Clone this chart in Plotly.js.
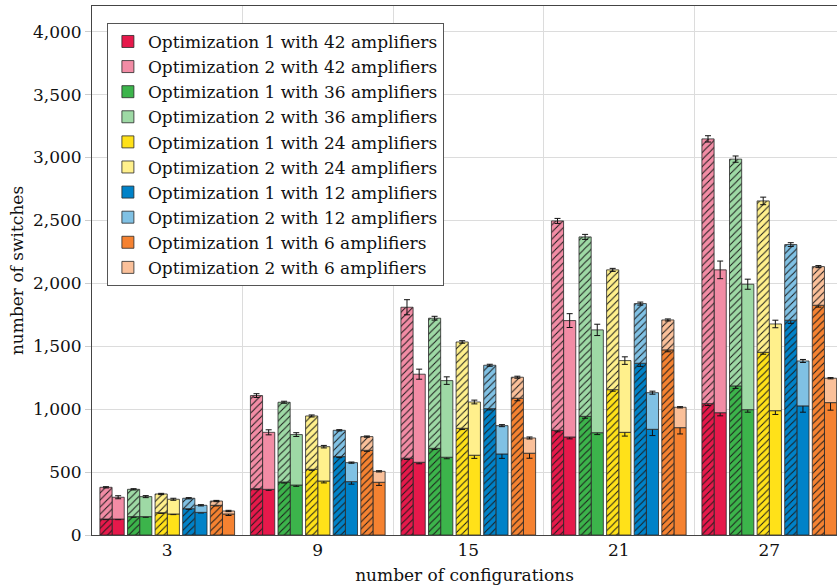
<!DOCTYPE html>
<html>
<head>
<meta charset="utf-8">
<script src="https://cdn.plot.ly/plotly-3.0.1.min.js"></script>
<style>html,body{margin:0;padding:0;background:#fff;}#chart{width:837px;height:587px;}</style>
</head>
<body>
<div id="chart"></div>
<script>
// number of configurations (x categories)
const configs = [3, 9, 15, 21, 27];
const xTickLabels = ['3', '9', '15', '21', '27'];
const amps = [42, 36, 24, 12, 6];

// Hatched bars: bottom = Optimization 1, top (total) = Optimization 2
const hatchOpt1_42 = [127, 368, 610, 832, 1044];
const hatchOpt2_42 = [379, 1108, 1810, 2496, 3148];
const hatchOpt1_36 = [146, 421, 689, 943, 1185];
const hatchOpt2_36 = [363, 1055, 1723, 2369, 2987];
const hatchOpt1_24 = [177, 522, 848, 1155, 1452];
const hatchOpt2_24 = [326, 946, 1534, 2107, 2655];
const hatchOpt1_12 = [209, 623, 1004, 1365, 1707];
const hatchOpt2_12 = [292, 832, 1349, 1839, 2308];
const hatchOpt1_6  = [236, 673, 1087, 1471, 1826];
const hatchOpt2_6  = [270, 782, 1254, 1709, 2133];

// Solid bars: bottom = Optimization 1, top (total) = Optimization 2
const solidOpt1_42 = [127, 363, 578, 779, 972];
const solidOpt2_42 = [300, 816, 1278, 1704, 2107];
const solidOpt1_36 = [146, 397, 618, 813, 996];
const solidOpt2_36 = [305, 798, 1227, 1630, 1993];
const solidOpt1_24 = [167, 429, 634, 816, 988];
const solidOpt2_24 = [284, 702, 1057, 1386, 1677];
const solidOpt1_12 = [180, 424, 644, 840, 1026];
const solidOpt2_12 = [236, 575, 869, 1131, 1383];
const solidOpt1_6  = [167, 419, 650, 853, 1052];
const solidOpt2_6  = [191, 506, 771, 1015, 1246];

// error bars (+/-)
const hatchErr1_42 = [5, 8, 10, 12, 15], hatchErr2_42 = [5, 15, 60, 20, 25];
const solidErr1_42 = [5, 8, 12, 15, 25], solidErr2_42 = [12, 20, 40, 55, 70];
const hatchErr1_36 = [5, 8, 10, 15, 20], hatchErr2_36 = [5, 8, 15, 20, 25];
const solidErr1_36 = [5, 10, 12, 15, 20], solidErr2_36 = [8, 15, 30, 45, 40];
const hatchErr1_24 = [5, 8, 10, 12, 15], hatchErr2_24 = [5, 8, 10, 12, 30];
const solidErr1_24 = [5, 15, 25, 30, 30], solidErr2_24 = [8, 10, 15, 30, 30];
const hatchErr1_12 = [5, 8, 10, 25, 25], hatchErr2_12 = [5, 5, 8, 12, 15];
const solidErr1_12 = [5, 20, 35, 50, 50], solidErr2_12 = [5, 5, 8, 12, 12];
const hatchErr1_6  = [5, 8, 20, 15, 15], hatchErr2_6  = [5, 5, 8, 8, 8];
const solidErr1_6  = [12, 25, 40, 50, 60], solidErr2_6  = [5, 5, 8, 5, 5];

const darkColors  = ['#e6194b', '#3cb44b', '#ffe119', '#0082c8', '#f58231'];
const lightColors = ['#f28ca5', '#9ed9a5', '#fff08c', '#80c1e4', '#fac09a'];

const series = [
  [hatchOpt1_42, hatchOpt2_42, solidOpt1_42, solidOpt2_42, hatchErr1_42, hatchErr2_42, solidErr1_42, solidErr2_42],
  [hatchOpt1_36, hatchOpt2_36, solidOpt1_36, solidOpt2_36, hatchErr1_36, hatchErr2_36, solidErr1_36, solidErr2_36],
  [hatchOpt1_24, hatchOpt2_24, solidOpt1_24, solidOpt2_24, hatchErr1_24, hatchErr2_24, solidErr1_24, solidErr2_24],
  [hatchOpt1_12, hatchOpt2_12, solidOpt1_12, solidOpt2_12, hatchErr1_12, hatchErr2_12, solidErr1_12, solidErr2_12],
  [hatchOpt1_6,  hatchOpt2_6,  solidOpt1_6,  solidOpt2_6,  hatchErr1_6,  hatchErr2_6,  solidErr1_6,  solidErr2_6]
];

const BW = 0.485;     // bar width (x units)
const PITCH = 1.1;    // pair pitch
const lineStyle = {color: 'rgba(40,40,40,0.8)', width: 1};
const errStyle = (arr) => ({type: 'data', array: arr, visible: true, color: '#111', thickness: 1, width: 3});

const legendTraces = [];
const otherTraces = [];

series.forEach((s, p) => {
  const [h1, h2, s1, s2, he1, he2, se1, se2] = s;
  const pairCenter = (p - 2) * PITCH;
  const hOff = pairCenter - BW;
  const sOff = pairCenter;
  const pat = (bg) => ({shape: '/', fgcolor: '#1a1a1a', bgcolor: bg, size: 5, solidity: 0.2, fillmode: 'replace'});
  legendTraces.push({
    type: 'bar', x: configs, y: s1, offset: sOff, width: BW,
    name: 'Optimization 1 with ' + amps[p] + ' amplifiers',
    marker: {color: darkColors[p], line: lineStyle},
    error_y: errStyle(se1)
  });
  legendTraces.push({
    type: 'bar', x: configs, y: s2.map((v, i) => v - s1[i]), base: s1, offset: sOff, width: BW,
    name: 'Optimization 2 with ' + amps[p] + ' amplifiers',
    marker: {color: lightColors[p], line: lineStyle},
    error_y: errStyle(se2)
  });
  otherTraces.push({
    type: 'bar', x: configs, y: h1, offset: hOff, width: BW, showlegend: false,
    marker: {color: darkColors[p], line: lineStyle, pattern: pat(darkColors[p])},
    error_y: errStyle(he1)
  });
  otherTraces.push({
    type: 'bar', x: configs, y: h2.map((v, i) => v - h1[i]), base: h1, offset: hOff, width: BW, showlegend: false,
    marker: {color: lightColors[p], line: lineStyle, pattern: pat(lightColors[p])},
    error_y: errStyle(he2)
  });
});

const serif = 'DejaVu Serif, serif';

const layout = {
  width: 837, height: 587,
  margin: {l: 92, r: 0, t: 6, b: 52},
  paper_bgcolor: '#fff', plot_bgcolor: '#fff',
  barmode: 'overlay',
  font: {family: serif, size: 17, color: '#111'},
  showlegend: true,
  legend: {
    x: 0.02, y: 0.968, xanchor: 'left', yanchor: 'top',
    bgcolor: '#fff', bordercolor: '#555', borderwidth: 1,
    font: {family: serif, size: 17, color: '#111'},
    traceorder: 'normal', tracegroupgap: 0
  },
  xaxis: {
    range: [0, 29.7],
    tickmode: 'array', tickvals: configs, ticktext: xTickLabels,
    showgrid: false, zeroline: false,
    showline: true, mirror: true, linecolor: '#444', linewidth: 1,
    ticks: '', tickfont: {family: serif, size: 17},
    minor: {tickmode: 'array', tickvals: [6, 12, 18, 24], showgrid: true, gridcolor: '#dcdcdc', gridwidth: 1, ticks: ''},
    title: {text: 'number of configurations', font: {family: serif, size: 17}, standoff: 9}
  },
  yaxis: {
    range: [0, 4204],
    tickmode: 'array', tickvals: [0, 500, 1000, 1500, 2000, 2500, 3000, 3500, 4000],
    tickformat: ',d',
    showgrid: true, gridcolor: '#dcdcdc', gridwidth: 1, zeroline: false,
    showline: true, mirror: true, linecolor: '#444', linewidth: 1,
    ticks: 'outside', ticklen: 6, tickcolor: '#ccc',
    tickfont: {family: serif, size: 17},
    title: {text: 'number of switches', font: {family: serif, size: 17}, standoff: 4}
  }
};

Plotly.newPlot('chart', legendTraces.concat(otherTraces), layout, {displayModeBar: false, staticPlot: true});
</script>
</body>
</html>
